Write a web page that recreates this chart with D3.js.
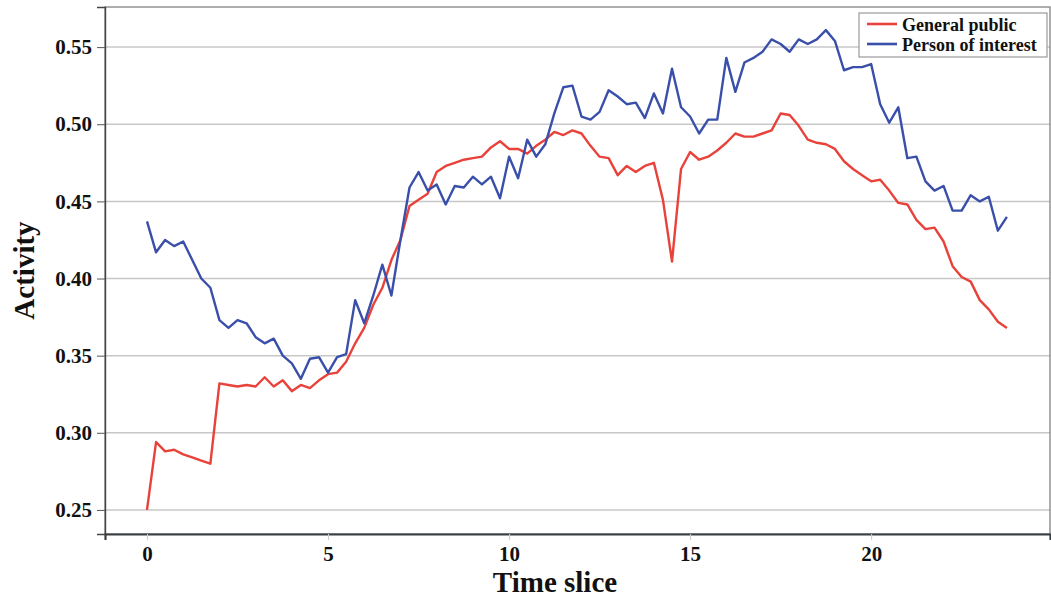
<!DOCTYPE html>
<html lang="en">
<head>
<meta charset="utf-8">
<title>Activity by time slice</title>
<script src="https://d3js.org/d3.v7.min.js"></script>
<style>
  body { margin: 0; background: #fff; }
  svg text { font-family: "Liberation Serif", "Times New Roman", serif; font-weight: bold; fill: #111; }
  .grid line { stroke: #c8c8c8; stroke-width: 1.5px; }
  .line { fill: none; stroke-width: 2.4px; stroke-linejoin: round; }
</style>
</head>
<body>
<script>
// data: one value every quarter of a time slice
const step = 0.25;
const generalPublic = [0.250,0.294,0.288,0.289,0.286,0.284,0.282,0.280,
  0.332,0.331,0.330,0.331,0.330,0.336,0.330,0.334,0.327,0.331,0.329,0.334,0.338,0.339,0.346,
  0.358,0.368,0.383,0.394,0.412,0.425,0.447,0.451,0.455,0.469,0.473,0.475,0.477,0.478,0.479,
  0.485,0.489,0.484,0.484,0.481,0.486,0.490,0.495,0.493,0.496,
  0.494,0.486,0.479,0.478,0.467,0.473,0.469,0.473,0.475,0.451,0.411,0.471,0.482,0.477,0.479,
  0.483,0.488,0.494,0.492,0.492,0.494,0.496,0.507,0.506,
  0.499,0.490,0.488,0.487,0.484,0.476,0.471,0.467,0.463,0.464,0.457,0.449,0.448,0.438,0.432,
  0.433,0.424,0.408,0.401,0.398,0.386,0.380,0.372,0.368];
const personOfInterest = [0.437,0.417,0.425,0.421,0.424,0.412,0.400,0.394,
  0.373,0.368,0.373,0.371,0.362,0.358,0.361,0.350,0.345,0.335,0.348,0.349,0.339,0.349,0.351,
  0.386,0.371,0.389,0.409,0.389,0.425,0.459,0.469,0.457,0.461,0.448,0.460,0.459,0.466,0.461,
  0.466,0.452,0.479,0.465,0.490,0.479,0.487,0.507,0.524,0.525,
  0.505,0.503,0.508,0.522,0.518,0.513,0.514,0.504,0.520,0.507,0.536,0.511,0.505,0.494,0.503,
  0.503,0.543,0.521,0.540,0.543,0.547,0.555,0.552,0.547,
  0.555,0.552,0.555,0.561,0.554,0.535,0.537,0.537,0.539,0.513,0.501,0.511,0.478,0.479,0.463,
  0.457,0.460,0.444,0.444,0.454,0.450,0.453,0.431,0.440];
const seriesNames = ["General public", "Person of interest"];
const seriesColors = ["#e8423a", "#3a4faa"];
const xTicks = [0, 5, 10, 15, 20];
const yTicks = [0.25, 0.30, 0.35, 0.40, 0.45, 0.50, 0.55];

const w = 1051, h = 599;
const plotL = 105, plotR = 1050, plotT = 7, plotB = 534;

const xScale = d3.scaleLinear().domain([-1.16, 24.94]).range([plotL, plotR]);
const yScale = d3.scaleLinear().domain([0.2344, 0.5760]).range([plotB, plotT]);

const svg = d3.select("body").append("svg")
  .attr("width", w).attr("height", h);

// gridlines
svg.append("g").attr("class", "grid")
  .selectAll("line").data(yTicks).join("line")
  .attr("x1", plotL).attr("x2", plotR)
  .attr("y1", d => yScale(d)).attr("y2", d => yScale(d));

// frame
svg.append("rect")
  .attr("x", plotL).attr("y", plotT)
  .attr("width", plotR - plotL).attr("height", plotB - plotT)
  .attr("fill", "none").attr("stroke", "#777").attr("stroke-width", 1.2);

// left axis
const leftAxis = d3.axisLeft(yScale).tickValues(yTicks)
  .tickFormat(d3.format(".2f")).tickSize(8).tickPadding(5);
const gy = svg.append("g").attr("transform", "translate(" + plotL + ",0)").call(leftAxis);
gy.select(".domain").attr("stroke", "#444").attr("stroke-width", 1.4);
gy.selectAll(".tick line").attr("stroke", "#555");
gy.selectAll(".tick text").style("font-size", "21px");

// bottom axis
const bottomAxis = d3.axisBottom(xScale).tickValues(xTicks).tickSize(6).tickPadding(6);
const gx = svg.append("g").attr("transform", "translate(0," + plotB + ")").call(bottomAxis);
gx.select(".domain").attr("stroke", "#3a3f44").attr("stroke-width", 2.2);
gx.selectAll(".tick line").attr("stroke", "#ccc");
gx.selectAll(".tick text").style("font-size", "21px");

// lines
const allSeries = [generalPublic, personOfInterest];
const line = d3.line()
  .x((d, i) => xScale(i * step))
  .y(d => yScale(d));

svg.selectAll(".line").data(allSeries).join("path")
  .attr("class", "line")
  .attr("stroke", (d, i) => seriesColors[i])
  .attr("d", line);

// axis titles
svg.append("text")
  .attr("x", 555).attr("y", 592)
  .attr("text-anchor", "middle")
  .style("font-size", "29px")
  .text("Time slice");

svg.append("text")
  .attr("transform", "translate(34," + ((plotT + plotB) / 2) + ") rotate(-90)")
  .attr("text-anchor", "middle")
  .style("font-size", "29px")
  .text("Activity");

// legend
const legend = svg.append("g").attr("transform", "translate(859,13)");
legend.append("rect")
  .attr("width", 188).attr("height", 44)
  .attr("fill", "#fff").attr("stroke", "#999").attr("stroke-width", 1.2);
seriesNames.forEach((name, i) => {
  const yy = 11 + i * 20;
  legend.append("line")
    .attr("x1", 8).attr("x2", 38).attr("y1", yy).attr("y2", yy)
    .attr("stroke", seriesColors[i]).attr("stroke-width", 2.6);
  legend.append("text")
    .attr("x", 43).attr("y", yy + 6.5)
    .style("font-size", "18px")
    .text(name);
});
</script>
</body>
</html>
